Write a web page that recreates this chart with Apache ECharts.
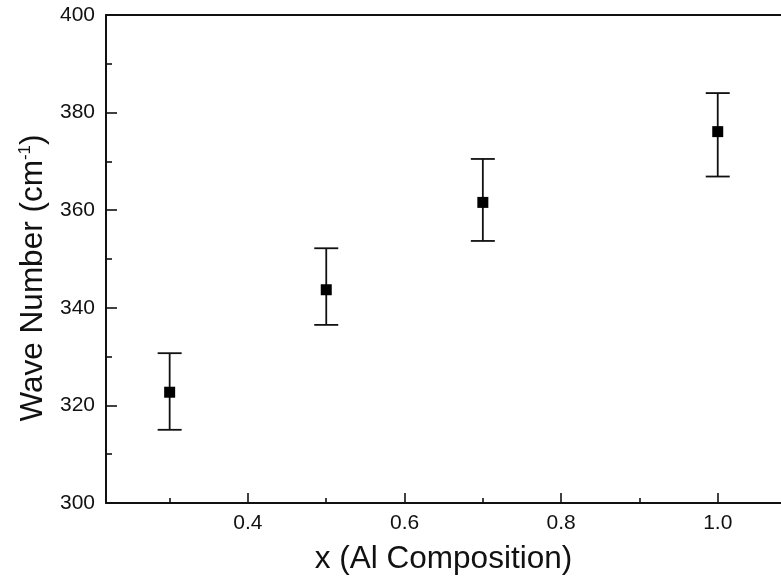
<!DOCTYPE html>
<html><head><meta charset="utf-8">
<script src="https://cdn.jsdelivr.net/npm/echarts@6/dist/echarts.min.js"></script>
<style>html,body{margin:0;padding:0;background:#fff}#c{width:781px;height:576px}</style>
</head><body><div id="c"></div>
<script>
// Data
const xValues = [0.3, 0.5, 0.7, 1.0];
const waveNumber = [322.7, 343.7, 361.6, 376.1];
const errLower = [315.0, 336.5, 353.7, 366.9];
const errUpper = [330.7, 352.2, 370.5, 384.0];
// Tick positions
const xMajorTicks = [0.4, 0.6, 0.8, 1.0];
const xMinorTicks = [0.3, 0.5, 0.7, 0.9];
const xMin = 0.2187, xMax = 1.0808;
const yMin = 300, yMax = 400, yStep = 20;

const FONT = '"Liberation Sans", Arial, Helvetica, sans-serif';
const INK = '#111';

const chart = echarts.init(document.getElementById('c'), null, {renderer: 'canvas'});
chart.setOption({
  animation: false,
  backgroundColor: '#fff',
  grid: {left: 106, right: 0, top: 15, bottom: 73, containLabel: false, outerBoundsMode: 'none'},
  xAxis: [
    {
      type: 'value', position: 'bottom', min: xMin, max: xMax,
      name: 'x (Al Composition)', nameLocation: 'middle', nameGap: 40,
      nameTextStyle: {fontFamily: FONT, fontSize: 31.5, color: INK},
      axisLine: {show: true, onZero: false, lineStyle: {color: INK, width: 2}},
      axisTick: {show: true, inside: true, length: 10, customValues: xMajorTicks, lineStyle: {color: INK, width: 1.6}},
      axisLabel: {show: true, customValues: xMajorTicks, margin: 10, fontFamily: FONT, fontSize: 21, color: INK,
        formatter: v => Number(v).toFixed(1)},
      splitLine: {show: false}
    },
    {
      type: 'value', position: 'bottom', min: xMin, max: xMax,
      axisLine: {show: false, onZero: false},
      axisTick: {show: true, inside: true, length: 5, customValues: xMinorTicks, lineStyle: {color: INK, width: 1.6}},
      axisLabel: {show: false},
      splitLine: {show: false}
    },
    {
      type: 'value', position: 'top', min: xMin, max: xMax,
      axisLine: {show: true, onZero: false, lineStyle: {color: INK, width: 2}},
      axisTick: {show: false}, axisLabel: {show: false}, splitLine: {show: false}
    }
  ],
  yAxis: [
    {
      type: 'value', position: 'left', min: yMin, max: yMax, interval: yStep,
      name: 'Wave Number (cm{sup|-1})', nameLocation: 'middle', nameGap: 57,
      nameTextStyle: {fontFamily: FONT, fontSize: 31.5, color: INK, padding: [0, 38, 0, 0],
        rich: {sup: {fontFamily: FONT, fontSize: 17, color: INK, verticalAlign: 'top', padding: [0, 0, 14, 0]}}},
      axisLine: {show: true, onZero: false, lineStyle: {color: INK, width: 2}},
      axisTick: {show: true, inside: true, length: 11, lineStyle: {color: INK, width: 1.6}},
      minorTick: {show: true, splitNumber: 2, length: 6, lineStyle: {color: INK, width: 1.6}},
      axisLabel: {margin: 11, fontFamily: FONT, fontSize: 21, color: INK},
      splitLine: {show: false}, minorSplitLine: {show: false}
    }
  ],
  series: [
    {
      type: 'custom', xAxisIndex: 0, yAxisIndex: 0, z: 2,
      data: xValues.map((x, i) => [x, errLower[i], errUpper[i]]),
      encode: {x: 0, y: [1, 2]},
      renderItem: (params, api) => {
        const x = api.value(0);
        const lo = api.coord([x, api.value(1)]);
        const hi = api.coord([x, api.value(2)]);
        const hw = 12;
        const style = {stroke: INK, lineWidth: 1.8, fill: null};
        return {type: 'group', children: [
          {type: 'line', shape: {x1: lo[0], y1: lo[1], x2: hi[0], y2: hi[1]}, style},
          {type: 'line', shape: {x1: lo[0] - hw, y1: lo[1], x2: lo[0] + hw, y2: lo[1]}, style},
          {type: 'line', shape: {x1: hi[0] - hw, y1: hi[1], x2: hi[0] + hw, y2: hi[1]}, style}
        ]};
      }
    },
    {
      type: 'scatter', xAxisIndex: 0, yAxisIndex: 0, z: 3,
      symbol: 'rect', symbolSize: 11,
      itemStyle: {color: '#000', opacity: 1},
      emphasis: {disabled: true},
      data: xValues.map((x, i) => [x, waveNumber[i]])
    }
  ]
});
</script>
</body></html>
